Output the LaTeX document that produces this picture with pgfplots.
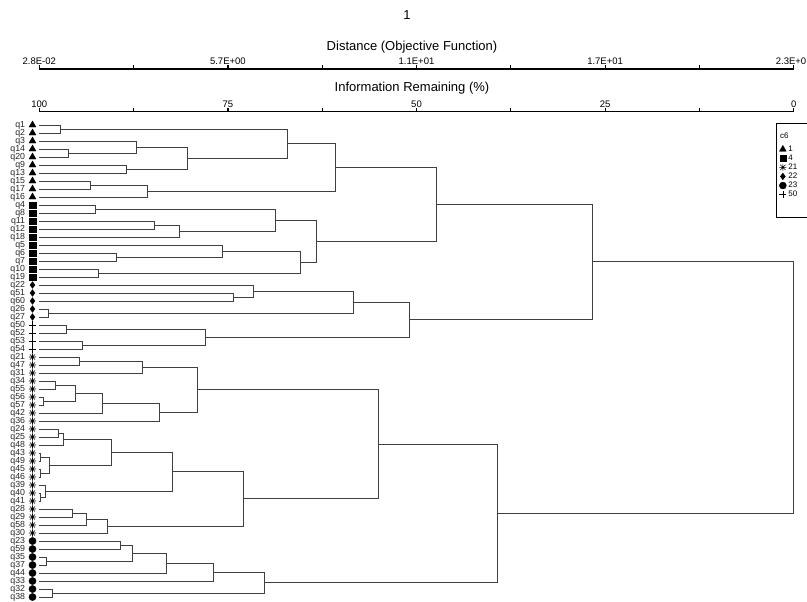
\documentclass[border=0pt]{standalone}
\usepackage{pgfplots}
\pgfplotsset{compat=1.18}
\usepackage{fontspec}
\setmainfont{Liberation Sans}

\pgfdeclareplotmark{ast8}{%
  \pgfpathmoveto{\pgfqpoint{0pt}{\pgfplotmarksize}}\pgfpathlineto{\pgfqpoint{0pt}{-\pgfplotmarksize}}%
  \pgfpathmoveto{\pgfqpoint{\pgfplotmarksize}{0pt}}\pgfpathlineto{\pgfqpoint{-\pgfplotmarksize}{0pt}}%
  \pgfpathmoveto{\pgfqpoint{0.72\pgfplotmarksize}{0.72\pgfplotmarksize}}\pgfpathlineto{\pgfqpoint{-0.72\pgfplotmarksize}{-0.72\pgfplotmarksize}}%
  \pgfpathmoveto{\pgfqpoint{-0.72\pgfplotmarksize}{0.72\pgfplotmarksize}}\pgfpathlineto{\pgfqpoint{0.72\pgfplotmarksize}{-0.72\pgfplotmarksize}}%
  \pgfusepathqstroke}

\pgfplotsset{
  dend/.style={black!75, line width=0.9pt, mark=none, forget plot},
  leaf/.style={only marks, black, fill=black, forget plot},
}

\begin{document}
\begin{tikzpicture}
\begin{axis}[
  name=main,
  scale only axis,
  width=754.4pt, height=489.3pt,
  xmin=0, xmax=100, ymin=-59.5, ymax=1.6625,
  clip=false,
  axis x line*=top, axis y line*=left,
  y axis line style={draw=none},
  x axis line style={line width=1.4pt},
  xtick={0,12.5,25,37.5,50,62.5,75,87.5,100},
  xticklabels={100,,75,,50,,25,,0},
  tick align=outside,
  major tick length=4pt,
  xtick style={line width=1.2pt, black},
  xticklabel style={font=\fontsize{9.5}{9.5}\selectfont, inner sep=0pt},
  ytick={-59,-58,...,0},
  yticklabels={q38,q32,q33,q44,q37,q35,q59,q23,q30,q58,q29,q28,q41,q40,q39,q46,q45,q49,q43,q48,q25,q24,q36,q42,q57,q56,q55,q34,q31,q47,q21,q54,q53,q52,q50,q27,q26,q60,q51,q22,q19,q10,q7,q6,q5,q18,q12,q11,q8,q4,q16,q17,q15,q13,q9,q20,q14,q3,q2,q1},
  ytick style={draw=none},
  yticklabel style={font=\fontsize{8.8}{8.8}\selectfont, text=black!85, inner sep=0pt, anchor=east, xshift=-10pt},
  xlabel={Information Remaining (\%)},
  xlabel style={at={(axis description cs:0.494,1)}, anchor=base, yshift=20pt, font=\fontsize{13}{13}\selectfont},
  title={1},
  title style={at={(axis description cs:0.4874,1)}, anchor=base, yshift=86pt, font=\fontsize{13}{13}\selectfont},
  legend style={at={(axis cs:97.92,-2.45)}, anchor=north west, draw=none, fill=none,
    font=\fontsize{8}{8}\selectfont, inner sep=0pt, row sep=0pt,
    nodes={inner sep=1pt}},
  legend cell align=left,
  legend image code/.code={\path (0cm,0cm) (0.3cm,0cm); \draw[#1] plot coordinates {(0.15cm,0cm)};},
]
% --- dendrogram brackets (x = % of distance, y = -leaf index) ---
\addplot[dend] coordinates {(0,0)(2.8,0)(2.8,-1)(0,-1)};
\addplot[dend] coordinates {(0,-3)(3.9,-3)(3.9,-4)(0,-4)};
\addplot[dend] coordinates {(0,-2)(12.9,-2)(12.9,-3.5)(3.9,-3.5)};
\addplot[dend] coordinates {(0,-5)(11.5,-5)(11.5,-6)(0,-6)};
\addplot[dend] coordinates {(12.9,-2.75)(19.7,-2.75)(19.7,-5.5)(11.5,-5.5)};
\addplot[dend] coordinates {(2.8,-0.5)(32.9,-0.5)(32.9,-4.125)(19.7,-4.125)};
\addplot[dend] coordinates {(0,-7)(6.8,-7)(6.8,-8)(0,-8)};
\addplot[dend] coordinates {(6.8,-7.5)(14.3,-7.5)(14.3,-9)(0,-9)};
\addplot[dend] coordinates {(32.9,-2.3125)(39.2,-2.3125)(39.2,-8.25)(14.3,-8.25)};
\addplot[dend] coordinates {(0,-10)(7.4,-10)(7.4,-11)(0,-11)};
\addplot[dend] coordinates {(0,-12)(15.2,-12)(15.2,-13)(0,-13)};
\addplot[dend] coordinates {(15.2,-12.5)(18.6,-12.5)(18.6,-14)(0,-14)};
\addplot[dend] coordinates {(7.4,-10.5)(31.3,-10.5)(31.3,-13.25)(18.6,-13.25)};
\addplot[dend] coordinates {(0,-16)(10.2,-16)(10.2,-17)(0,-17)};
\addplot[dend] coordinates {(0,-15)(24.3,-15)(24.3,-16.5)(10.2,-16.5)};
\addplot[dend] coordinates {(0,-18)(7.9,-18)(7.9,-19)(0,-19)};
\addplot[dend] coordinates {(24.3,-15.75)(34.6,-15.75)(34.6,-18.5)(7.9,-18.5)};
\addplot[dend] coordinates {(31.3,-11.875)(36.8,-11.875)(36.8,-17.125)(34.6,-17.125)};
\addplot[dend] coordinates {(39.2,-5.28125)(52.7,-5.28125)(52.7,-14.5)(36.8,-14.5)};
\addplot[dend] coordinates {(0,-21)(25.7,-21)(25.7,-22)(0,-22)};
\addplot[dend] coordinates {(0,-20)(28.4,-20)(28.4,-21.5)(25.7,-21.5)};
\addplot[dend] coordinates {(0,-23)(1.2,-23)(1.2,-24)(0,-24)};
\addplot[dend] coordinates {(28.4,-20.75)(41.6,-20.75)(41.6,-23.5)(1.2,-23.5)};
\addplot[dend] coordinates {(0,-25)(3.6,-25)(3.6,-26)(0,-26)};
\addplot[dend] coordinates {(0,-27)(5.7,-27)(5.7,-28)(0,-28)};
\addplot[dend] coordinates {(3.6,-25.5)(22.0,-25.5)(22.0,-27.5)(5.7,-27.5)};
\addplot[dend] coordinates {(41.6,-22.125)(49.0,-22.125)(49.0,-26.5)(22.0,-26.5)};
\addplot[dend] coordinates {(52.7,-9.890625)(73.3,-9.890625)(73.3,-24.3125)(49.0,-24.3125)};
\addplot[dend] coordinates {(0,-29)(5.3,-29)(5.3,-30)(0,-30)};
\addplot[dend] coordinates {(5.3,-29.5)(13.7,-29.5)(13.7,-31)(0,-31)};
\addplot[dend] coordinates {(0,-32)(2.1,-32)(2.1,-33)(0,-33)};
\addplot[dend] coordinates {(0,-34)(0.5,-34)(0.5,-35)(0,-35)};
\addplot[dend] coordinates {(2.1,-32.5)(4.8,-32.5)(4.8,-34.5)(0.5,-34.5)};
\addplot[dend] coordinates {(4.8,-33.5)(8.4,-33.5)(8.4,-36)(0,-36)};
\addplot[dend] coordinates {(8.4,-34.75)(15.9,-34.75)(15.9,-37)(0,-37)};
\addplot[dend] coordinates {(13.7,-30.25)(20.9,-30.25)(20.9,-35.875)(15.9,-35.875)};
\addplot[dend] coordinates {(0,-38)(2.6,-38)(2.6,-39)(0,-39)};
\addplot[dend] coordinates {(2.6,-38.5)(3.2,-38.5)(3.2,-40)(0,-40)};
\addplot[dend] coordinates {(0,-41)(0.2,-41)(0.2,-42)(0,-42)};
\addplot[dend] coordinates {(0,-43)(0.2,-43)(0.2,-44)(0,-44)};
\addplot[dend] coordinates {(0.2,-41.5)(1.4,-41.5)(1.4,-43.5)(0.2,-43.5)};
\addplot[dend] coordinates {(3.2,-39.25)(9.6,-39.25)(9.6,-42.5)(1.4,-42.5)};
\addplot[dend] coordinates {(0,-46)(0.2,-46)(0.2,-47)(0,-47)};
\addplot[dend] coordinates {(0,-45)(0.8,-45)(0.8,-46.5)(0.2,-46.5)};
\addplot[dend] coordinates {(9.6,-40.875)(17.6,-40.875)(17.6,-45.75)(0.8,-45.75)};
\addplot[dend] coordinates {(0,-48)(4.4,-48)(4.4,-49)(0,-49)};
\addplot[dend] coordinates {(4.4,-48.5)(6.3,-48.5)(6.3,-50)(0,-50)};
\addplot[dend] coordinates {(6.3,-49.25)(9.0,-49.25)(9.0,-51)(0,-51)};
\addplot[dend] coordinates {(17.6,-43.3125)(27.0,-43.3125)(27.0,-50.125)(9.0,-50.125)};
\addplot[dend] coordinates {(20.9,-33.0625)(44.9,-33.0625)(44.9,-46.71875)(27.0,-46.71875)};
\addplot[dend] coordinates {(0,-52)(10.8,-52)(10.8,-53)(0,-53)};
\addplot[dend] coordinates {(0,-54)(0.9,-54)(0.9,-55)(0,-55)};
\addplot[dend] coordinates {(10.8,-52.5)(12.3,-52.5)(12.3,-54.5)(0.9,-54.5)};
\addplot[dend] coordinates {(12.3,-53.5)(16.8,-53.5)(16.8,-56)(0,-56)};
\addplot[dend] coordinates {(16.8,-54.75)(23.1,-54.75)(23.1,-57)(0,-57)};
\addplot[dend] coordinates {(0,-58)(1.8,-58)(1.8,-59)(0,-59)};
\addplot[dend] coordinates {(23.1,-55.875)(29.8,-55.875)(29.8,-58.5)(1.8,-58.5)};
\addplot[dend] coordinates {(44.9,-39.890625)(60.7,-39.890625)(60.7,-57.1875)(29.8,-57.1875)};
\addplot[dend] coordinates {(73.3,-17.1015625)(99.9,-17.1015625)(99.9,-48.5390625)(60.7,-48.5390625)};
% --- leaf group markers ---
\addplot[leaf, mark=triangle*, mark size=4pt] coordinates {(-0.9,0)(-0.9,-1)(-0.9,-2)(-0.9,-3)(-0.9,-4)(-0.9,-5)(-0.9,-6)(-0.9,-7)(-0.9,-8)(-0.9,-9)};
\addplot[leaf, mark=square*, mark size=3.2pt] coordinates {(-0.9,-10)(-0.9,-11)(-0.9,-12)(-0.9,-13)(-0.9,-14)(-0.9,-15)(-0.9,-16)(-0.9,-17)(-0.9,-18)(-0.9,-19)};
\addplot[leaf, mark=diamond*, mark size=3.3pt] coordinates {(-0.9,-20)(-0.9,-21)(-0.9,-22)(-0.9,-23)(-0.9,-24)};
\addplot[leaf, mark=+, mark size=3.6pt, line width=0.8pt] coordinates {(-0.9,-25)(-0.9,-26)(-0.9,-27)(-0.9,-28)};
\addplot[leaf, mark=ast8, mark size=3.6pt, line width=0.6pt] coordinates {(-0.9,-29)(-0.9,-30)(-0.9,-31)(-0.9,-32)(-0.9,-33)(-0.9,-34)(-0.9,-35)(-0.9,-36)(-0.9,-37)(-0.9,-38)(-0.9,-39)(-0.9,-40)(-0.9,-41)(-0.9,-42)(-0.9,-43)(-0.9,-44)(-0.9,-45)(-0.9,-46)(-0.9,-47)(-0.9,-48)(-0.9,-49)(-0.9,-50)(-0.9,-51)};
\addplot[leaf, mark=*, mark size=3.6pt] coordinates {(-0.9,-52)(-0.9,-53)(-0.9,-54)(-0.9,-55)(-0.9,-56)(-0.9,-57)(-0.9,-58)(-0.9,-59)};
% --- legend ---
\addlegendimage{only marks, black, fill=black, mark=triangle*, mark size=3.9pt}\addlegendentry{1}
\addlegendimage{only marks, black, fill=black, mark=square*, mark size=3.1pt}\addlegendentry{4}
\addlegendimage{only marks, black, mark=ast8, mark size=3.5pt, line width=0.6pt}\addlegendentry{21}
\addlegendimage{only marks, black, fill=black, mark=diamond*, mark size=3.3pt}\addlegendentry{22}
\addlegendimage{only marks, black, fill=black, mark=*, mark size=3.5pt}\addlegendentry{23}
\addlegendimage{only marks, black, mark=+, mark size=3.5pt, line width=0.7pt}\addlegendentry{50}
\node[anchor=base west, inner sep=0pt, font=\fontsize{8}{8}\selectfont] at (axis cs:98.18,-1.7) {c6};
\draw[line width=0.8pt] (axis cs:97.69,0.2125) rectangle (axis cs:106,-11.54);
\coordinate (bbA) at (axis cs:-5.209,15.625);
\coordinate (bbB) at (axis cs:101.76,-59.5);
\end{axis}
\begin{axis}[
  at={(main.north west)}, anchor=north west, yshift=42.7pt,
  scale only axis,
  width=754.4pt, height=10pt,
  xmin=0, xmax=100, ymin=0, ymax=1,
  axis x line*=top, axis y line=none,
  x axis line style={line width=1.4pt},
  xtick={0,12.5,25,37.5,50,62.5,75,87.5,100},
  xticklabels={2.8E-02,,5.7E+00,,1.1E+01,,1.7E+01,,2.3E+01},
  tick align=outside,
  major tick length=4pt,
  xtick style={line width=1.2pt, black},
  xticklabel style={font=\fontsize{9.5}{9.5}\selectfont, inner sep=0pt},
  xlabel={Distance (Objective Function)},
  xlabel style={at={(axis description cs:0.494,1)}, anchor=base, yshift=18pt, font=\fontsize{13}{13}\selectfont},
]
\end{axis}
\pgfresetboundingbox
\path[use as bounding box] (bbA) rectangle (bbB);
\end{tikzpicture}
\end{document}
